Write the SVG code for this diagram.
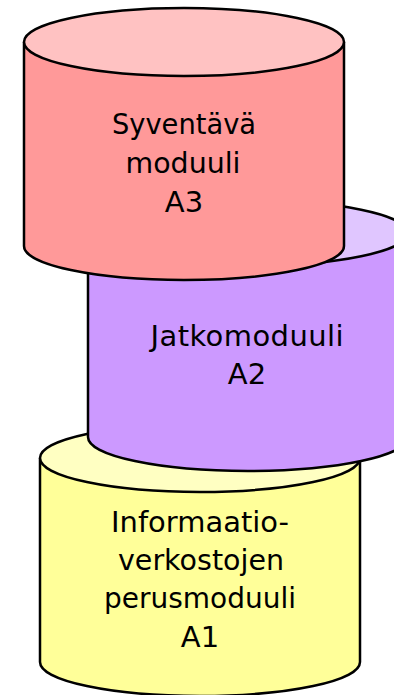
<svg xmlns="http://www.w3.org/2000/svg" width="394" height="695" viewBox="0 0 394 695">
<style>
.body{stroke:none}
.edge{fill:none;stroke:#000;stroke-width:2.5;stroke-linejoin:round}
.top{stroke:#000;stroke-width:2.5}
.lbl{font-family:"DejaVu Sans",Verdana,sans-serif;font-size:29px;fill:#000;text-anchor:middle}
</style>
<rect width="394" height="695" fill="#fff"/>
<g id="connectors"/>
<g id="A1">
<path class="body" fill="#FFFF99" d="M40,458 V662 A160,34 0 0 0 360,662 V458 Z"/>
<path class="edge" d="M40,458 V662 A160,34 0 0 0 360,662 V458"/>
<ellipse class="top" fill="#FFFFC2" cx="200" cy="458" rx="160" ry="34"/>
<text class="lbl" x="200" y="532" textLength="178" lengthAdjust="spacingAndGlyphs">Informaatio-</text>
<text class="lbl" x="201" y="570" textLength="166" lengthAdjust="spacingAndGlyphs">verkostojen</text>
<text class="lbl" x="200" y="608" textLength="192" lengthAdjust="spacingAndGlyphs">perusmoduuli</text>
<text class="lbl" x="200" y="647">A1</text>
</g>
<g id="A2">
<path class="body" fill="#CC99FF" d="M88,233 V437 A160,34 0 0 0 408,437 V233 Z"/>
<path class="edge" d="M88,233 V437 A160,34 0 0 0 408,437 V233"/>
<ellipse class="top" fill="#E0C6FF" cx="248" cy="233" rx="160" ry="33"/>
<text class="lbl" x="247" y="346" textLength="193" lengthAdjust="spacing">Jatkomoduuli</text>
<text class="lbl" x="247" y="384">A2</text>
</g>
<g id="A3">
<path class="body" fill="#FF9999" d="M24,42 V246 A160,34 0 0 0 344,246 V42 Z"/>
<path class="edge" d="M24,42 V246 A160,34 0 0 0 344,246 V42"/>
<ellipse class="top" fill="#FFC2C2" cx="184" cy="42" rx="160" ry="34"/>
<text class="lbl" x="184" y="134" textLength="144" lengthAdjust="spacingAndGlyphs">Syventävä</text>
<text class="lbl" x="183" y="173" textLength="115" lengthAdjust="spacingAndGlyphs">moduuli</text>
<text class="lbl" x="184" y="212">A3</text>
</g>
</svg>
